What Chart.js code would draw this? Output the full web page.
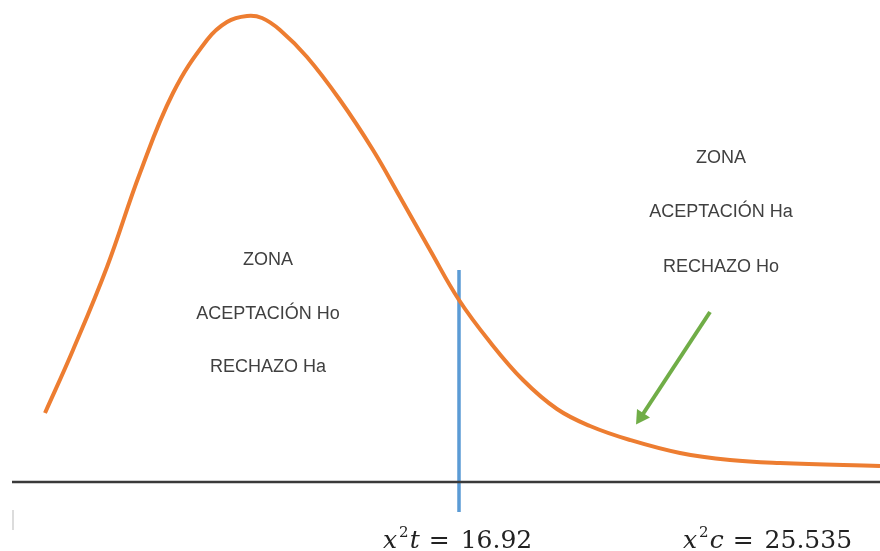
<!DOCTYPE html>
<html>
<head>
<meta charset="utf-8">
<script src="https://cdn.jsdelivr.net/npm/chart.js@4.4.0/dist/chart.umd.min.js"></script>
<style>
  html, body { margin: 0; padding: 0; background: #fff; }
  #wrap { width: 880px; height: 551px; }
</style>
</head>
<body>
<div id="wrap"><canvas id="chart" width="880" height="551"></canvas></div>
<script>
// curve (x position, height above the base line)
const curveX = [45, 73, 107, 140, 173, 207, 227, 247, 262, 280, 307, 340, 373, 400, 430, 459, 490, 523, 557, 590, 630, 680, 730, 780, 880];
const curveY = [69, 132, 215, 309, 389, 442, 460, 466, 464, 452, 425, 382, 332, 285, 232, 182, 140, 102, 73, 56, 42, 29, 22, 19, 16];

const baseX = [12, 880];
const baseY = [0, 0];

const tickMarkX = [13, 13];
const tickMarkY = [-28, -48];

const criticalX = [459, 459];
const criticalY = [212, -30];

const arrowX = [710, 641];
const arrowY = [170, 65];

const leftZone = ['ZONA', 'ACEPTACIÓN Ho', 'RECHAZO Ha'];
const leftZoneX = 268;
const leftZoneY = [222, 168, 115];
const rightZone = ['ZONA', 'ACEPTACIÓN Ha', 'RECHAZO Ho'];
const rightZoneX = 721;
const rightZoneY = [324, 270, 215];

const statLabels = [
  { x: 383, y: -66, sym: 'x', sub: 't', value: '16.92' },
  { x: 683, y: -66, sym: 'x', sub: 'c', value: '25.535' }
];

const toPoints = (xs, ys) => xs.map((x, i) => ({ x: x, y: ys[i] }));

const textPlugin = {
  id: 'zoneText',
  afterDatasetsDraw(chart) {
    const ctx = chart.ctx;
    const sx = chart.scales.x, sy = chart.scales.y;
    ctx.save();
    ctx.fillStyle = '#404040';
    ctx.font = '18px "Liberation Sans", Arial, sans-serif';
    ctx.textAlign = 'center';
    ctx.textBaseline = 'middle';
    leftZone.forEach((t, i) => ctx.fillText(t, sx.getPixelForValue(leftZoneX), sy.getPixelForValue(leftZoneY[i])));
    rightZone.forEach((t, i) => ctx.fillText(t, sx.getPixelForValue(rightZoneX), sy.getPixelForValue(rightZoneY[i])));

    // x² labels under the axis
    ctx.textAlign = 'left';
    ctx.textBaseline = 'alphabetic';
    ctx.fillStyle = '#222';
    const serif = '"DejaVu Serif", "Liberation Serif", serif';
    statLabels.forEach(l => {
      let px = sx.getPixelForValue(l.x);
      const py = sy.getPixelForValue(l.y);
      ctx.font = 'italic 25px ' + serif;
      ctx.fillText(l.sym, px, py);
      px += ctx.measureText(l.sym).width + 2;
      ctx.font = '15px ' + serif;
      ctx.fillText('2', px, py - 11);
      px += ctx.measureText('2').width + 1;
      ctx.font = 'italic 25px ' + serif;
      ctx.fillText(l.sub, px, py);
      px += ctx.measureText(l.sub).width + 9;
      ctx.font = '25px ' + serif;
      ctx.fillText('=', px, py);
      px += ctx.measureText('=').width + 11;
      ctx.fillText(l.value, px, py);
    });
    ctx.restore();
  }
};

new Chart(document.getElementById('chart'), {
  type: 'line',
  data: {
    datasets: [
      {
        data: toPoints(baseX, baseY),
        borderColor: '#3a3a3a',
        borderWidth: 2.5,
        pointRadius: 0
      },
      {
        data: toPoints(tickMarkX, tickMarkY),
        borderColor: '#dcdcdc',
        borderWidth: 2,
        pointRadius: 0
      },
      {
        data: toPoints(curveX, curveY),
        borderColor: '#ED7D31',
        borderWidth: 4,
        pointRadius: 0,
        tension: 0.4
      },
      {
        data: toPoints(criticalX, criticalY),
        borderColor: '#5B9BD5',
        borderWidth: 3.5,
        pointRadius: 0
      },
      {
        data: toPoints(arrowX, arrowY),
        borderColor: '#70AD47',
        backgroundColor: '#70AD47',
        borderWidth: 4,
        pointRadius: [0, 9],
        pointStyle: 'triangle',
        pointRotation: 213.6,
        pointBorderWidth: 0
      }
    ]
  },
  options: {
    responsive: false,
    animation: false,
    clip: false,
    layout: { padding: 0, autoPadding: false },
    plugins: { legend: { display: false }, tooltip: { enabled: false } },
    scales: {
      x: { type: 'linear', min: 0, max: 880, display: false },
      y: { type: 'linear', min: -69, max: 482, display: false }
    }
  },
  plugins: [textPlugin]
});
</script>
</body>
</html>
